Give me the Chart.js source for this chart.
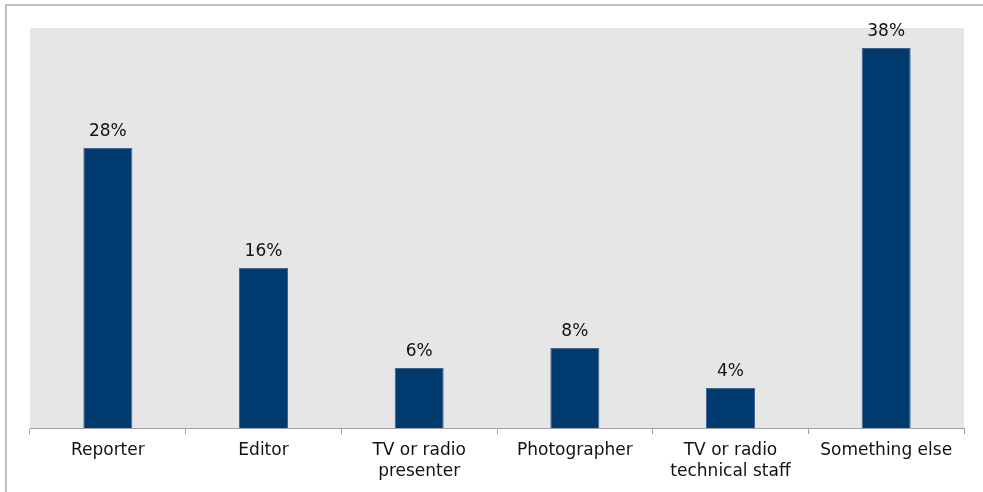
<!DOCTYPE html>
<html>
<head>
<meta charset="utf-8">
<script src="https://cdn.jsdelivr.net/npm/chart.js@4/dist/chart.umd.min.js"></script>
<style>
  html, body { margin: 0; padding: 0; background: #ffffff; }
  #wrap { width: 983px; height: 492px; position: relative; }
</style>
</head>
<body>
<div id="wrap"><canvas id="c" width="983" height="492"></canvas></div>
<script>
const categories = [
  "Reporter",
  "Editor",
  ["TV or radio", "presenter"],
  "Photographer",
  ["TV or radio", "technical staff"],
  "Something else"
];
const values = [28, 16, 6, 8, 4, 38];
const valueLabels = ["28%", "16%", "6%", "8%", "4%", "38%"];

const FONT = "'DejaVu Sans', Verdana, sans-serif";

const framePlugin = {
  id: 'frame',
  beforeDraw(chart) {
    const ctx = chart.ctx;
    const a = chart.chartArea;
    ctx.save();
    ctx.fillStyle = '#ffffff';
    ctx.fillRect(0, 0, chart.width, chart.height);
    ctx.strokeStyle = '#c0c0c0';
    ctx.lineWidth = 2;
    ctx.beginPath();
    ctx.moveTo(6, chart.height);
    ctx.lineTo(6, 5);
    ctx.lineTo(chart.width, 5);
    ctx.stroke();
    ctx.fillStyle = '#e6e6e6';
    ctx.fillRect(a.left, a.top, a.right - a.left, a.bottom - a.top);
    ctx.restore();
  }
};

const labelPlugin = {
  id: 'valueLabels',
  afterDatasetsDraw(chart) {
    const ctx = chart.ctx;
    const meta = chart.getDatasetMeta(0);
    ctx.save();
    ctx.font = "17px " + FONT;
    ctx.fillStyle = '#111111';
    ctx.textAlign = 'center';
    ctx.textBaseline = 'alphabetic';
    meta.data.forEach((bar, i) => {
      ctx.fillText(valueLabels[i], bar.x, bar.y - 12);
    });
    ctx.restore();
  }
};

new Chart(document.getElementById('c'), {
  type: 'bar',
  data: {
    labels: categories,
    datasets: [{
      data: values,
      backgroundColor: '#003a6e',
      borderColor: '#3f6690',
      borderWidth: 1,
      barPercentage: 0.315,
      categoryPercentage: 1
    }]
  },
  options: {
    responsive: false,
    animation: false,
    layout: { padding: { left: 30, right: 19, top: 28, bottom: 0 } },
    plugins: { legend: { display: false }, tooltip: { enabled: false } },
    scales: {
      x: {
        grid: { offset: true, drawOnChartArea: false, tickLength: 6, color: '#a0a0a0', lineWidth: 1 },
        border: { display: true, color: '#a0a0a0', width: 1 },
        ticks: {
          color: '#111111',
          font: { family: FONT, size: 17, lineHeight: 1.18 },
          padding: 7,
          maxRotation: 0,
          autoSkip: false
        },
        afterFit(scale) { scale.height = 64; }
      },
      y: {
        display: false,
        min: 0,
        max: 40
      }
    }
  },
  plugins: [framePlugin, labelPlugin]
});
</script>
</body>
</html>
